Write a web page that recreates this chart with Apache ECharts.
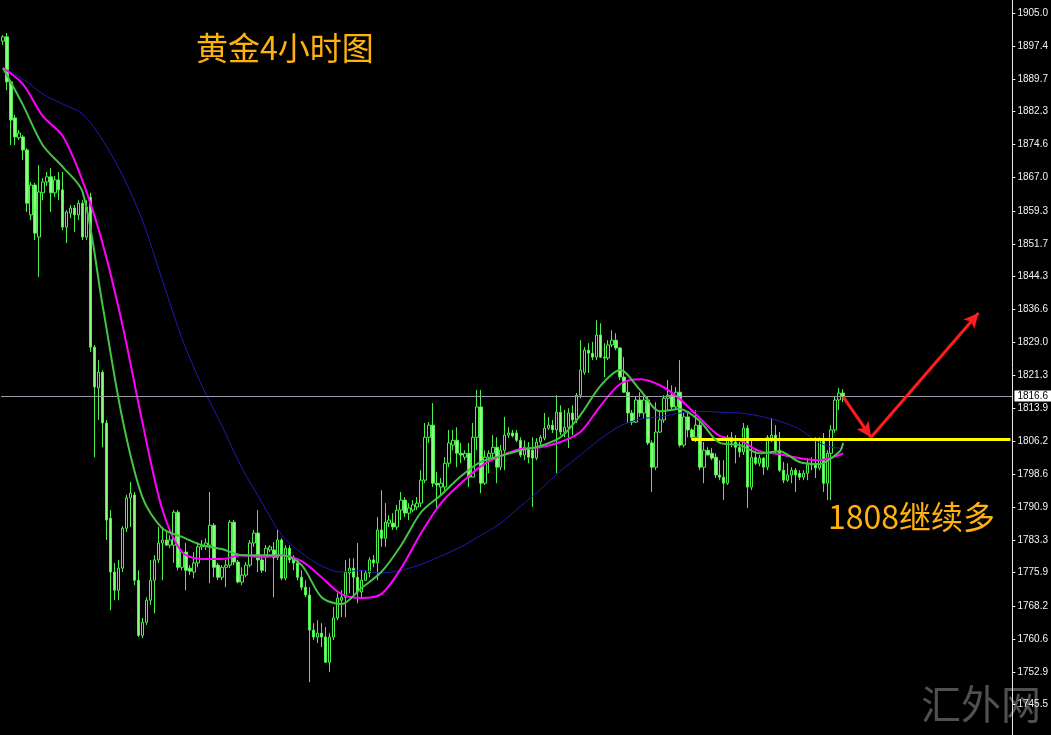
<!DOCTYPE html>
<html>
<head>
<meta charset="utf-8">
<title>黄金4小时图</title>
<script src="https://cdn.jsdelivr.net/npm/echarts@6/dist/echarts.min.js"></script>
<style>
  html, body { margin: 0; padding: 0; background: #000; }
  #main { width: 1051px; height: 735px; }
</style>
</head>
<body>
<div id="main"></div>
<script>
// 4小时K线 [open, close, low, high]
const ohlc = [
  [1898.5,1899.5,1897.6,1899.9],[1899.5,1889.1,1887.2,1900.4],[1889.1,1880.3,1874.5,1889.5],[1880.8,1876.4,1874.5,1881.5],
  [1876.2,1877.3,1875.7,1878.0],[1876.4,1873.4,1871.1,1876.8],[1873.4,1861.1,1859.1,1873.8],[1858.4,1865.3,1857.2,1866.0],
  [1865.3,1854.2,1852.6,1865.8],[1853.3,1863.7,1844.1,1869.9],[1863.5,1866.0,1861.8,1866.9],[1866.0,1867.2,1865.1,1868.3],
  [1867.2,1863.5,1859.1,1869.2],[1863.5,1866.5,1862.5,1867.4],[1866.5,1864.2,1861.8,1868.3],[1864.2,1855.6,1854.9,1868.3],
  [1855.6,1859.1,1851.9,1859.5],[1858.8,1860.0,1857.7,1860.7],[1860.0,1858.4,1854.5,1860.7],[1858.4,1861.1,1857.2,1861.8],
  [1861.1,1853.3,1852.6,1861.8],[1853.3,1860.2,1852.6,1861.8],[1862.5,1827.9,1826.8,1863.5],[1827.9,1818.7,1802.5,1828.4],
  [1818.5,1822.1,1811.1,1824.9],[1822.1,1810.4,1804.8,1822.6],[1810.4,1788.0,1783.4,1811.1],[1788.4,1776.0,1767.2,1790.3],
  [1776.0,1771.8,1769.5,1778.1],[1771.8,1776.9,1769.5,1778.8],[1776.9,1786.1,1776.0,1786.6],[1786.1,1793.1,1785.2,1793.8],
  [1793.1,1794.2,1786.4,1796.8],[1793.8,1774.1,1773.0,1794.5],[1774.1,1761.4,1761.0,1776.4],[1761.4,1764.4,1760.8,1765.4],
  [1764.4,1769.5,1763.8,1770.2],[1769.5,1774.1,1768.4,1778.8],[1774.1,1778.8,1766.5,1779.9],[1778.8,1782.7,1778.1,1786.4],
  [1782.7,1783.4,1774.1,1786.4],[1783.4,1782.2,1782.2,1785.7],[1782.2,1783.4,1781.5,1784.5],[1782.2,1789.8,1778.1,1790.3],
  [1789.8,1777.1,1776.4,1790.3],[1777.1,1780.6,1776.4,1781.1],[1780.6,1776.4,1771.8,1782.7],[1776.9,1776.2,1775.3,1777.6],
  [1776.0,1778.1,1774.6,1780.6],[1778.1,1781.8,1777.1,1782.9],[1781.8,1782.2,1781.1,1783.4],[1782.0,1782.7,1781.1,1783.8],
  [1782.2,1786.8,1773.4,1794.5],[1786.8,1777.1,1774.8,1787.3],[1777.6,1774.8,1774.1,1778.1],[1774.8,1777.1,1774.1,1777.6],
  [1777.1,1777.6,1772.5,1778.8],[1777.6,1787.5,1776.9,1788.0],[1787.5,1778.3,1777.6,1788.0],[1778.3,1773.7,1773.4,1778.8],
  [1773.7,1775.3,1773.0,1777.1],[1775.3,1777.6,1774.8,1778.3],[1777.6,1782.7,1777.1,1783.4],[1782.7,1785.0,1781.8,1785.7],
  [1785.0,1778.8,1776.0,1790.3],[1778.8,1776.4,1775.8,1779.9],[1779.9,1781.5,1776.0,1782.2],[1781.1,1781.8,1780.6,1782.2],
  [1781.1,1779.4,1770.2,1782.9],[1779.4,1783.4,1778.8,1785.7],[1783.4,1774.6,1774.1,1783.8],[1774.6,1781.5,1774.1,1782.2],
  [1781.5,1778.8,1778.1,1782.2],[1779.4,1778.1,1776.4,1779.9],[1778.1,1774.8,1774.1,1778.8],[1774.8,1772.5,1771.8,1776.4],
  [1772.5,1770.7,1770.2,1774.1],[1770.7,1762.6,1750.6,1772.5],[1762.6,1761.0,1760.3,1764.2],[1761.0,1761.9,1759.6,1764.9],
  [1761.9,1761.0,1758.7,1764.2],[1761.0,1755.2,1755.0,1763.3],[1755.2,1761.0,1752.9,1761.9],[1761.0,1765.4,1760.3,1767.9],
  [1765.4,1770.0,1764.9,1771.1],[1769.5,1770.2,1765.6,1771.8],[1770.2,1776.0,1765.6,1778.8],[1775.8,1776.9,1771.1,1779.2],
  [1776.9,1774.8,1770.2,1779.2],[1774.8,1771.4,1768.8,1782.7],[1771.4,1774.1,1770.2,1776.4],[1774.1,1775.8,1774.1,1776.4],
  [1775.8,1778.8,1774.8,1779.4],[1778.8,1778.1,1777.1,1779.9],[1778.1,1785.7,1774.1,1788.7],[1785.7,1783.8,1781.8,1794.9],
  [1783.8,1787.5,1781.8,1791.9],[1787.3,1788.0,1786.4,1789.1],[1787.3,1786.4,1785.7,1789.6],[1786.4,1790.3,1785.7,1791.5],
  [1790.3,1792.6,1788.0,1794.5],[1792.6,1789.6,1788.7,1793.3],[1789.6,1790.8,1788.0,1791.9],[1790.3,1791.5,1789.8,1792.6],
  [1791.0,1791.9,1790.3,1793.3],[1791.9,1797.2,1791.0,1799.5],[1797.2,1807.1,1796.5,1810.4],[1807.1,1809.9,1805.8,1810.6],
  [1809.9,1796.5,1795.6,1815.0],[1796.5,1796.1,1790.3,1799.1],[1795.6,1796.5,1793.8,1797.7],[1795.6,1801.1,1794.2,1802.5],
  [1801.1,1805.8,1800.2,1808.8],[1805.3,1806.4,1804.1,1808.8],[1806.4,1803.4,1800.2,1809.4],[1803.4,1803.0,1801.1,1805.8],
  [1802.5,1803.4,1801.8,1804.1],[1803.4,1797.9,1795.6,1805.8],[1797.9,1807.1,1797.9,1810.4],[1807.1,1814.1,1804.1,1818.0],
  [1814.1,1796.5,1794.2,1818.0],[1796.5,1802.5,1796.1,1804.1],[1802.5,1803.4,1798.8,1804.1],[1803.4,1804.8,1801.8,1807.6],
  [1804.8,1800.2,1796.5,1807.1],[1800.2,1804.1,1799.5,1805.3],[1804.1,1807.6,1799.5,1811.8],[1807.6,1808.1,1806.9,1809.4],
  [1808.1,1807.4,1807.1,1808.8],[1808.1,1806.4,1806.0,1808.8],[1806.4,1803.0,1802.5,1807.1],[1803.0,1804.8,1801.8,1806.4],
  [1804.8,1802.5,1801.1,1806.0],[1804.1,1802.3,1791.0,1807.1],[1802.3,1806.0,1801.8,1806.9],[1806.0,1807.1,1804.6,1807.6],
  [1806.9,1809.2,1806.4,1812.7],[1809.2,1809.9,1808.8,1811.8],[1809.9,1808.8,1808.1,1811.1],[1808.8,1812.9,1798.8,1816.8],
  [1812.9,1808.3,1807.6,1814.5],[1808.3,1809.4,1807.1,1813.4],[1809.4,1812.7,1804.6,1813.8],[1812.7,1811.1,1807.6,1814.5],
  [1811.1,1816.8,1810.4,1817.3],[1816.8,1822.6,1816.1,1829.5],[1822.1,1827.2,1821.5,1827.9],[1827.2,1826.5,1821.9,1828.8],
  [1826.5,1825.6,1824.9,1829.1],[1825.6,1830.7,1824.9,1834.1],[1830.7,1825.6,1825.4,1833.4],[1825.6,1825.4,1821.0,1828.8],
  [1825.4,1828.4,1824.9,1829.5],[1828.4,1829.5,1827.9,1831.8],[1829.5,1827.7,1827.2,1831.1],[1827.7,1821.0,1820.3,1827.9],
  [1821.0,1817.5,1817.3,1825.6],[1817.5,1812.7,1810.4,1819.8],[1812.7,1810.6,1809.9,1813.4],[1810.6,1815.7,1810.4,1816.4],
  [1815.7,1812.7,1811.8,1817.5],[1812.7,1815.7,1811.5,1816.8],[1815.7,1805.8,1805.3,1816.4],[1805.8,1800.2,1794.5,1806.4],
  [1800.2,1808.3,1799.5,1815.2],[1808.3,1811.1,1808.1,1813.4],[1811.1,1816.1,1810.4,1816.8],[1816.1,1816.8,1813.4,1820.3],
  [1816.8,1814.1,1813.4,1819.1],[1814.1,1817.5,1813.4,1818.7],[1817.5,1805.3,1804.8,1824.9],[1805.3,1811.8,1804.8,1812.7],
  [1811.8,1808.8,1807.1,1812.7],[1808.8,1807.1,1806.4,1809.2],[1807.1,1809.9,1806.0,1813.4],[1809.9,1800.2,1799.5,1811.1],
  [1800.2,1804.1,1796.5,1806.0],[1804.1,1803.0,1803.0,1804.8],[1803.4,1802.3,1801.8,1804.6],[1802.5,1798.4,1797.7,1803.4],
  [1798.4,1797.9,1797.2,1801.8],[1797.9,1796.5,1792.6,1801.8],[1796.5,1807.1,1796.1,1807.6],[1807.1,1806.0,1804.8,1808.3],
  [1806.0,1804.8,1801.1,1807.6],[1804.8,1803.7,1802.5,1806.0],[1803.7,1809.2,1803.0,1810.4],[1809.2,1795.6,1790.8,1809.9],
  [1795.6,1802.5,1794.9,1806.4],[1802.5,1801.1,1800.7,1804.1],[1801.1,1802.3,1800.4,1803.0],[1802.3,1800.2,1798.4,1802.5],
  [1800.2,1807.1,1799.5,1807.6],[1806.9,1807.6,1806.0,1811.5],[1807.6,1804.1,1803.4,1809.9],[1804.1,1799.5,1799.1,1808.3],
  [1799.5,1797.2,1796.5,1801.4],[1797.2,1798.4,1796.8,1801.1],[1798.4,1799.5,1796.5,1800.2],[1799.5,1798.4,1794.5,1800.0],
  [1798.8,1797.9,1797.2,1799.5],[1797.9,1798.8,1797.2,1799.5],[1798.8,1800.7,1797.2,1802.3],[1800.7,1801.1,1799.5,1802.5],
  [1801.1,1800.0,1797.7,1807.1],[1800.0,1806.4,1799.5,1807.1],[1806.4,1796.5,1794.5,1808.1],[1796.5,1803.4,1792.6,1804.1],
  [1803.4,1808.8,1792.6,1809.9],[1808.8,1815.7,1808.1,1816.4],[1815.7,1817.3,1813.4,1818.5],[1817.3,1816.6,1815.2,1818.2]
];

// 均线读数，每5根K线一个点，最后一个点是最新K线
const maGreen = [
  1892.3,1883.8,1874.5,1869.5,1863.7,1837.6,1811.3,1793.3,1786.1,1784.1,1782.2,
  1781.3,1779.9,1779.9,1779.9,1777.6,1770.2,1768.6,1772.3,1776.0,1782.2,1789.8,
  1793.8,1798.1,1801.4,1802.8,1804.1,1805.1,1807.1,1812.2,1818.9,1822.6,1818.0,
  1813.1,1813.6,1810.8,1805.8,1805.3,1803.4,1803.9,1801.4,1800.9,1803.7,1805.8
];
const maMagenta = [
  1892.3,1888.6,1881.2,1876.6,1866.2,1851.9,1833.0,1810.6,1790.5,1780.6,1779.0,
  1779.0,1779.9,1779.4,1779.9,1778.5,1774.8,1770.9,1770.0,1770.9,1776.9,1785.0,
  1791.9,1796.5,1800.4,1802.8,1804.4,1804.8,1806.0,1808.3,1814.3,1819.4,1820.5,
  1819.1,1815.9,1811.5,1807.4,1806.4,1803.9,1803.2,1802.3,1801.8,1803.0,1803.4
];
const maBlue = [
  1892.3,1889.8,1886.3,1884.0,1881.7,1875.7,1867.6,1857.2,1843.4,1829.8,1818.9,
  1809.7,1800.0,1792.1,1784.5,1780.4,1777.4,1776.0,1776.4,1775.8,1776.4,1777.8,
  1779.7,1781.8,1784.5,1787.3,1791.2,1795.1,1799.3,1803.0,1806.7,1809.7,1811.3,
  1811.8,1812.7,1813.1,1812.9,1812.7,1812.0,1810.8,1809.0,1805.8,1804.6,1804.6
];

// 价格轴刻度
const yTicks = [
  1905.0,1897.4,1889.7,1882.3,1874.6,1867.0,1859.3,1851.7,1844.3,1836.6,1829.0,
  1821.3,1813.9,1806.2,1798.6,1790.9,1783.3,1775.9,1768.2,1760.6,1752.9,1745.5
];

const lastPrice = 1816.6;
const supportLevel = 1806.7;
// 红色箭头路径 [K线序号, 价格]
const arrowPath = [[211, 1816.4], [218, 1807.1], [245, 1835.8]];

const slotCount = 254;
const categories = Array.from({ length: slotCount }, (_, i) => "K" + i);
const maBars = maGreen.map((_, k) => Math.min(k * 5, ohlc.length - 1));
const toLine = (arr) => arr.map((v, k) => [maBars[k], v]);

var chartDom = document.getElementById("main");
var myChart = echarts.init(chartDom);
var option;

const orange = "#ffb20f";
const candleGreen = "#4cf04c";

option = {
  backgroundColor: "#000000",
  animation: false,
  grid: { left: 1, right: 35, top: 0, bottom: 0 },
  xAxis: {
    type: "category",
    data: categories,
    boundaryGap: true,
    show: false,
  },
  yAxis: {
    type: "value",
    position: "right",
    z: 10,
    min: 1738.4,
    max: 1908.0,
    splitLine: { show: false },
    axisLine: { show: true, lineStyle: { color: "#e6e6e6", width: 1 } },
    axisTick: {
      show: true,
      length: 3,
      customValues: yTicks,
      lineStyle: { color: "#e6e6e6" },
    },
    axisLabel: {
      customValues: yTicks,
      color: "#f2f2f2",
      fontSize: 10,
      fontFamily: "Liberation Sans",
      margin: 5,
      formatter: (v) => v.toFixed(1),
    },
  },
  series: [
    {
      name: "K",
      type: "candlestick",
      data: ohlc,
      barWidth: 3,
      z: 2,
      itemStyle: {
        color: "#000000",
        color0: "#8cff80",
        borderColor: candleGreen,
        borderColor0: candleGreen,
        borderWidth: 1,
      },
      markLine: {
        silent: true,
        symbol: ["none", "none"],
        label: { show: false },
        data: [
          {
            yAxis: lastPrice,
            lineStyle: { color: "#9a9aa8", width: 1, type: "solid" },
            label: {
              show: true,
              position: "end",
              distance: 2,
              formatter: lastPrice.toFixed(1),
              backgroundColor: "#ffffff",
              color: "#000000",
              fontSize: 10,
              fontFamily: "Liberation Sans",
              padding: [1, 4, 0, 3],
            },
          },
          [
            { coord: [173, supportLevel], lineStyle: { color: "#ffff00", width: 3, type: "solid" } },
            { coord: [253, supportLevel] },
          ],
          [
            { coord: arrowPath[0], symbol: "none", lineStyle: { color: "#ff1c1c", width: 3, type: "solid" } },
            { coord: arrowPath[1], symbol: "arrow", symbolSize: [11, 15] },
          ],
          [
            { coord: arrowPath[1], symbol: "none", lineStyle: { color: "#ff1c1c", width: 3, type: "solid" } },
            { coord: arrowPath[2], symbol: "arrow", symbolSize: [11, 15] },
          ],
        ],
      },
    },
    {
      name: "MA慢",
      type: "line",
      data: toLine(maBlue),
      showSymbol: false,
      smooth: 0.3,
      z: 3,
      lineStyle: { color: "#1c1cb0", width: 1 },
    },
    {
      name: "MA中",
      type: "line",
      data: toLine(maMagenta),
      showSymbol: false,
      smooth: 0.3,
      z: 4,
      lineStyle: { color: "#ff00ff", width: 2 },
    },
    {
      name: "MA快",
      type: "line",
      data: toLine(maGreen),
      showSymbol: false,
      smooth: 0.3,
      z: 5,
      lineStyle: { color: "#45c445", width: 2 },
    },
  ],
  graphic: [
    {
      type: "text",
      left: 196,
      top: 32,
      style: { text: "黄金4小时图", fill: orange, font: '32px "Noto Sans CJK SC"' },
    },
    {
      type: "text",
      left: 828,
      top: 501,
      style: { text: "1808继续多", fill: orange, font: '32px "Noto Sans CJK SC"' },
    },
    {
      type: "text",
      left: 921,
      top: 684,
      z: -1,
      style: { text: "汇外网", fill: "#505050", font: '40px "Noto Sans CJK SC"' },
    },
  ],
};

option && myChart.setOption(option);
</script>
</body>
</html>
